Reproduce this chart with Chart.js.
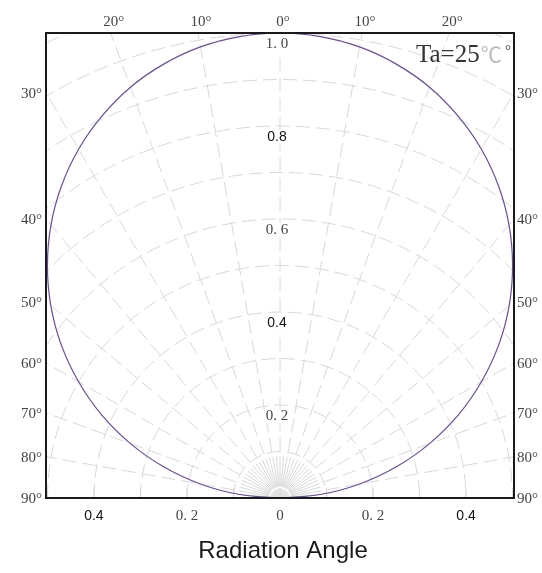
<!DOCTYPE html>
<html>
<head>
<meta charset="utf-8">
<script src="https://cdn.jsdelivr.net/npm/chart.js@4"></script>
<style>
  body { margin: 0; background: #fff; }
  canvas { display: block; }
</style>
</head>
<body>
<canvas id="radChart" width="542" height="573"></canvas>
<script>
// Relative intensity vs angle (deg, 0 = straight up)
const angles = [-90, -85, -80, -75, -70, -65, -60, -55, -50, -45, -40, -35, -30, -25, -20, -15, -10, -5,
  0, 5, 10, 15, 20, 25, 30, 35, 40, 45, 50, 55, 60, 65, 70, 75, 80, 85, 90];
const intensity = [0, 0.087, 0.174, 0.259, 0.342, 0.423, 0.5, 0.574, 0.643, 0.707, 0.766, 0.819, 0.866, 0.906, 0.94, 0.966, 0.985, 0.996,
  1.0, 0.996, 0.985, 0.966, 0.94, 0.906, 0.866, 0.819, 0.766, 0.707, 0.643, 0.574, 0.5, 0.423, 0.342, 0.259, 0.174, 0.087, 0];

// Grid and tick labels
const gridRadii = [0.1, 0.2, 0.3, 0.4, 0.5, 0.6, 0.7, 0.8, 0.9, 1.0, 1.1, 1.2];
const topAngleTicks = [-20, -10, 0, 10, 20];
const sideAngleTicks = [30, 40, 50, 60, 70, 80, 90];
const radialTicks = [0.2, 0.4, 0.6, 0.8, 1.0];
const radialLabels = ['0. 2', '0.4', '0. 6', '0.8', '1. 0'];
const bottomTicks = [-0.4, -0.2, 0, 0.2, 0.4];
const bottomLabels = ['0.4', '0. 2', '0', '0. 2', '0.4'];

const SERIF = '"Liberation Serif", "DejaVu Serif", serif';
const SANS = '"Liberation Sans", Arial, sans-serif';

const toRad = d => d * Math.PI / 180;

const polarGrid = {
  id: 'polarGrid',
  beforeDatasetsDraw(chart) {
    const { ctx, chartArea: ca, scales: { x, y } } = chart;
    const ox = x.getPixelForValue(0), oy = y.getPixelForValue(0);
    const unit = oy - y.getPixelForValue(1);
    ctx.save();
    ctx.beginPath();
    ctx.rect(ca.left, ca.top, ca.right - ca.left, ca.bottom - ca.top);
    ctx.clip();
    ctx.lineWidth = 1;

    // dashed circles
    ctx.strokeStyle = '#d8d8d8';
    ctx.setLineDash([14, 6]);
    gridRadii.forEach(r => {
      ctx.beginPath();
      ctx.arc(ox, oy, r * unit, Math.PI, 2 * Math.PI);
      ctx.stroke();
    });

    const spoke = (deg, r0, r1) => {
      const a = toRad(deg);
      ctx.beginPath();
      ctx.moveTo(ox + r0 * unit * Math.sin(a), oy - r0 * unit * Math.cos(a));
      ctx.lineTo(ox + r1 * unit * Math.sin(a), oy - r1 * unit * Math.cos(a));
      ctx.stroke();
    };

    // long dashed spokes every 10 deg
    for (let d = -90; d <= 90; d += 10) spoke(d, 0.1, 1.4);

    // short solid spokes every 5 deg near the origin
    ctx.setLineDash([]);
    for (let d = -85; d <= 85; d += 5) spoke(d, 0.024, 0.09);

    // dense starburst at the origin
    ctx.strokeStyle = '#e2e2e2';
    for (let d = -87.5; d <= 87.5; d += 2.5) spoke(d, 0.0, 0.02);

    // small ticks on the bottom edge
    ctx.strokeStyle = '#d8d8d8';
    for (let v = -0.4; v <= 0.41; v += 0.1) {
      const px = x.getPixelForValue(v);
      ctx.beginPath();
      ctx.moveTo(px, ca.bottom);
      ctx.lineTo(px, ca.bottom - 10);
      ctx.stroke();
    }
    ctx.restore();
  },
  afterDraw(chart) {
    const { ctx, chartArea: ca, scales: { x, y } } = chart;
    const ox = x.getPixelForValue(0), oy = y.getPixelForValue(0);
    const unit = oy - y.getPixelForValue(1);
    ctx.save();

    // frame
    ctx.strokeStyle = '#1a1a1a';
    ctx.lineWidth = 2;
    ctx.strokeRect(ca.left, ca.top, ca.right - ca.left, ca.bottom - ca.top);

    // angle labels on top edge
    ctx.fillStyle = '#444';
    ctx.font = '15px ' + SERIF;
    ctx.textBaseline = 'alphabetic';
    ctx.textAlign = 'center';
    topAngleTicks.forEach(d => {
      const px = ox + (oy - ca.top) * Math.tan(toRad(d));
      ctx.fillText(Math.abs(d) + '°', px + 3, 26);
    });

    // angle labels on both sides
    ctx.textBaseline = 'middle';
    sideAngleTicks.forEach(d => {
      const half = (ca.right - ca.left) / 2;
      const py = d === 90 ? oy : oy - half / Math.tan(toRad(d));
      ctx.textAlign = 'right';
      ctx.fillText(d + '°', ca.left - 4, py + 1);
      ctx.textAlign = 'left';
      ctx.fillText(d + '°', ca.right + 3, py + 1);
    });

    // radial value labels along the centre line
    ctx.textAlign = 'center';
    radialTicks.forEach((r, i) => {
      const txt = radialLabels[i];
      const serif = txt.indexOf(' ') >= 0;
      ctx.font = serif ? '15px ' + SERIF : '14px ' + SANS;
      const py = oy - r * unit + 11;
      const w = ctx.measureText(txt).width;
      ctx.fillStyle = '#fff';
      ctx.fillRect(ox - 3 - w / 2 - 1, py - 7, w + 2, 14);
      ctx.fillStyle = serif ? '#444' : '#111';
      ctx.fillText(txt, ox - 3, py);
    });

    // bottom value labels
    bottomTicks.forEach((v, i) => {
      const txt = bottomLabels[i];
      const sans = txt === '0.4';
      ctx.font = sans ? '14px ' + SANS : '15px ' + SERIF;
      ctx.fillStyle = sans ? '#111' : '#444';
      ctx.fillText(txt, x.getPixelForValue(v), 516);
    });

    // temperature note
    ctx.textAlign = 'left';
    ctx.textBaseline = 'alphabetic';
    ctx.font = '25px ' + SERIF;
    ctx.fillStyle = '#333';
    ctx.fillText('Ta=25', 416, 62);
    const tw = ctx.measureText('Ta=25').width;
    ctx.fillStyle = '#bbb';
    ctx.font = '21px "Noto Sans CJK SC", ' + SERIF;
    ctx.fillText('℃', 416 + tw + 1, 62);
    ctx.fillStyle = '#333';
    ctx.font = '15px ' + SERIF;
    ctx.fillText('°', 505, 55);

    // axis title
    ctx.textAlign = 'center';
    ctx.font = '24px ' + SANS;
    ctx.fillStyle = '#1a1a1a';
    ctx.fillText('Radiation Angle', 283, 558);
    ctx.restore();
  }
};

const points = angles.map((a, i) => ({
  x: intensity[i] * Math.sin(toRad(a)),
  y: intensity[i] * Math.cos(toRad(a))
}));

new Chart(document.getElementById('radChart'), {
  type: 'scatter',
  data: {
    datasets: [{
      label: 'Ta=25',
      data: points,
      showLine: true,
      borderColor: '#6a4c9e',
      borderWidth: 1.2,
      pointRadius: 0,
      tension: 0.4,
      fill: false
    }]
  },
  options: {
    responsive: false,
    animation: false,
    layout: { padding: { left: 46, right: 28, top: 33, bottom: 75 } },
    plugins: { legend: { display: false }, tooltip: { enabled: false } },
    scales: {
      x: { type: 'linear', min: -0.503, max: 0.503, display: false },
      y: { type: 'linear', min: 0, max: 1, display: false }
    }
  },
  plugins: [polarGrid]
});
</script>
</body>
</html>
